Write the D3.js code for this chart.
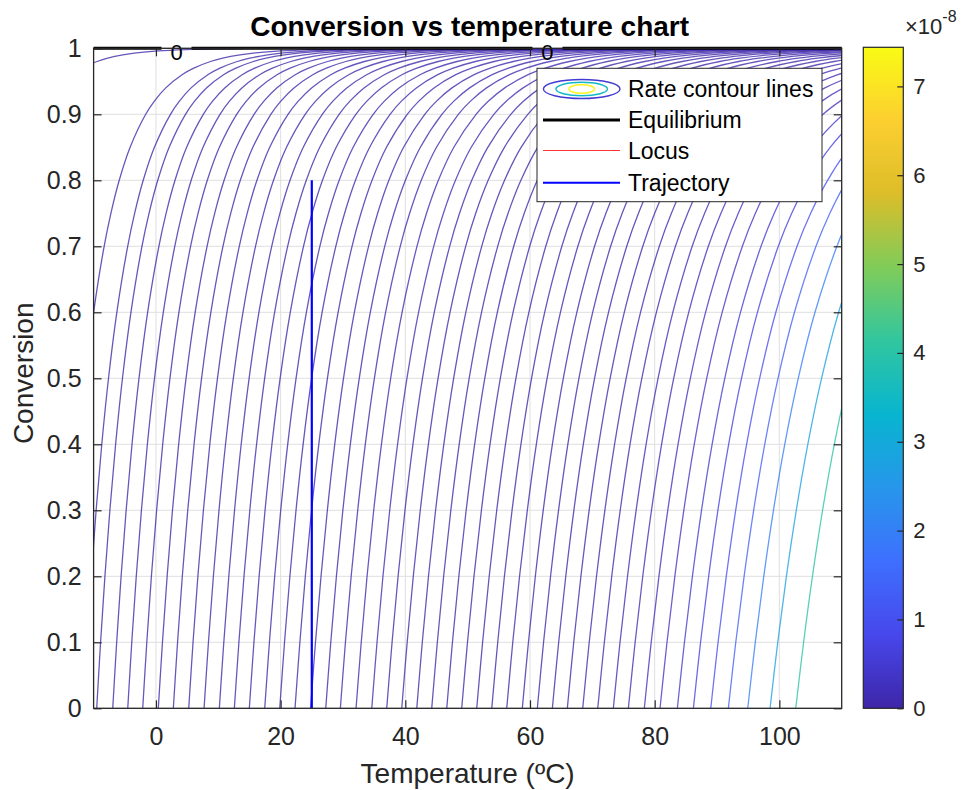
<!DOCTYPE html>
<html>
<head>
<meta charset="utf-8">
<script src="https://cdn.jsdelivr.net/npm/d3@7"></script>
<style>
body { margin: 0; background: #fff; }
text { font-family: "Liberation Sans", Arial, Helvetica, sans-serif; }
</style>
</head>
<body>
<div class="chart"></div>
<script>
// Conversion vs temperature chart

// axis ticks
var tempTicks = [0, 20, 40, 60, 80, 100];
var convTicks = [0, 0.1, 0.2, 0.3, 0.4, 0.5, 0.6, 0.7, 0.8, 0.9, 1];
var barTicks = [0, 1, 2, 3, 4, 5, 6, 7];
var rateMax = 7.44; // x 1e-8, top of the colour bar

// rate contours: temperature (ºC) where each line meets conversion 0,
// and its rate level (x 1e-8) read from the line colour
var contourT0 = [-30.57, -15.25, -11.67, -9.50, -6.93, -4.52, -2.12, 0.38, 2.79, 5.26,
    7.72, 10.17, 12.58, 14.98, 17.45, 19.86, 22.31, 24.80, 27.24, 29.58,
    32.10, 34.62, 37.02, 39.43, 41.84, 44.24, 46.65, 49.05, 51.46, 53.87,
    56.27, 58.77, 61.18, 63.59, 65.99, 68.46, 70.87, 73.37, 75.78, 78.34,
    80.86, 83.64, 86.21, 89.00, 91.82, 94.93, 98.51, 102.63];
var contourLevel = [0.0001, 0.00014, 0.0002, 0.00028, 0.0004, 0.00055, 0.00075, 0.001, 0.0014, 0.0019,
    0.0026, 0.0035, 0.005, 0.007, 0.0095, 0.013, 0.018, 0.025, 0.035, 0.048,
    0.065, 0.09, 0.0004, 0.0006, 0.0009, 0.0013, 0.0019, 0.0027, 0.004, 0.0055,
    0.008, 0.012, 0.017, 0.024, 0.035, 0.05, 0.073, 0.105, 0.15, 0.22,
    0.32, 0.46, 0.66, 0.95, 1.35, 1.95, 2.8, 4.0];

// common shape of the contours: shift of 1/T (1e-4 per K) against conversion
var shapeConv = [0, 0.1, 0.2, 0.3, 0.4, 0.5, 0.6, 0.7, 0.75, 0.8, 0.85, 0.9, 0.92, 0.94,
    0.96, 0.97, 0.98, 0.985, 0.99, 0.993, 0.996, 0.998, 0.999, 0.9995];
var shapeShift = [0, 0.0889, 0.1883, 0.3011, 0.4311, 0.5850, 0.7734, 1.0162, 1.1700, 1.3583,
    1.6012, 1.9434, 2.1317, 2.3745, 2.7167, 2.9596, 3.3017, 3.5446, 3.8868, 4.1878,
    4.6601, 5.2451, 5.8302, 6.4152];

// other series
var eqTemp = [-10, 110];
var eqConv = [1, 1];
var eqLabelTemp = [3.3, 62.8];
var trajTemp = [25, 25];
var trajConv = [0, 0.8];

var legendNames = ["Rate contour lines", "Equilibrium", "Locus", "Trajectory"];

// parula colour map stops
var parulaStops = [0, 0.111, 0.222, 0.333, 0.444, 0.556, 0.667, 0.778, 0.889, 1];
var parulaColors = ["#3e26a8", "#4747eb", "#3e6ffe", "#2796eb", "#08b5d0",
    "#31c69f", "#80cc59", "#dcbd29", "#fccf30", "#f9fb15"];

var svgWidth = 968;
var svgHeight = 790;
var plot = { left: 93.6, right: 841.7, top: 48.3, bottom: 708.3 };
var bar = { left: 863.3, right: 903.3, top: 47.3, bottom: 708.3 };
var axisColor = "#262626";

var svg = d3.select(".chart")
    .append("svg")
    .attr("width", svgWidth)
    .attr("height", svgHeight);

var xScale = d3.scaleLinear().domain([-10, 110]).range([plot.left, plot.right]);
var yScale = d3.scaleLinear().domain([0, 1]).range([plot.bottom, plot.top]);
var colorScale = d3.scaleLinear()
    .domain(parulaStops.map(function(s) { return s * rateMax; }))
    .range(parulaColors)
    .interpolate(d3.interpolateRgb);

var defs = svg.append("defs");
defs.append("clipPath").attr("id", "plotClip")
    .append("rect")
    .attr("x", plot.left).attr("y", plot.top)
    .attr("width", plot.right - plot.left).attr("height", plot.bottom - plot.top);

// grid
var grid = svg.append("g").attr("class", "grid");
grid.selectAll(".gx").data(tempTicks).enter().append("line")
    .attr("x1", function(d) { return xScale(d); }).attr("x2", function(d) { return xScale(d); })
    .attr("y1", plot.top).attr("y2", plot.bottom)
    .attr("stroke", "#dfdfdf").attr("stroke-width", 1);
grid.selectAll(".gy").data(convTicks).enter().append("line")
    .attr("y1", function(d) { return yScale(d); }).attr("y2", function(d) { return yScale(d); })
    .attr("x1", plot.left).attr("x2", plot.right)
    .attr("stroke", "#dfdfdf").attr("stroke-width", 1);

// contour lines
var chart = svg.append("g").attr("clip-path", "url(#plotClip)");
var line = d3.line()
    .x(function(d) { return xScale(d[0]); })
    .y(function(d) { return yScale(d[1]); })
    .curve(d3.curveCatmullRom);

chart.selectAll(".contour")
    .data(contourT0)
    .enter()
    .append("path")
    .attr("class", "contour")
    .attr("fill", "none")
    .attr("stroke", function(d, i) { return colorScale(contourLevel[i]); })
    .attr("stroke-width", 1.3)
    .attr("stroke-opacity", 0.78)
    .attr("d", function(t0) {
        var pts = shapeConv.map(function(c, j) {
            var invT = 1 / (t0 + 273.15) - shapeShift[j] * 1e-4;
            return [1 / invT - 273.15, c];
        });
        return line(pts);
    });

// trajectory
chart.append("path")
    .attr("fill", "none")
    .attr("stroke", "#0000ff")
    .attr("stroke-width", 2.2)
    .attr("d", d3.line()
        .x(function(d, i) { return xScale(trajTemp[i]); })
        .y(function(d, i) { return yScale(trajConv[i]); })(trajTemp));

// equilibrium line, broken where the 0 labels sit
var gapHalf = 15;
var cuts = [xScale(eqTemp[0])];
eqLabelTemp.forEach(function(t) {
    cuts.push(xScale(t) - gapHalf);
    cuts.push(xScale(t) + gapHalf);
});
cuts.push(xScale(eqTemp[1]));
for (var k = 0; k < cuts.length; k += 2) {
    svg.append("line")
        .attr("x1", cuts[k]).attr("x2", cuts[k + 1])
        .attr("y1", yScale(eqConv[0])).attr("y2", yScale(eqConv[1]))
        .attr("stroke", "#000").attr("stroke-width", 3);
}
svg.selectAll(".eqlabel").data(eqLabelTemp).enter().append("text")
    .attr("x", function(d) { return xScale(d); })
    .attr("y", yScale(1) + 4)
    .attr("dy", "0.35em")
    .attr("text-anchor", "middle")
    .attr("font-size", 22)
    .attr("fill", "#000")
    .text("0");

// axes
function styleAxis(g) {
    g.select(".domain").remove();
    g.selectAll(".tick line").attr("stroke", axisColor).attr("stroke-width", 1.2);
    g.selectAll(".tick text").attr("fill", axisColor).attr("font-size", 25)
        .attr("font-family", "'Liberation Sans', Arial, sans-serif");
}
svg.append("g")
    .attr("transform", "translate(0," + plot.bottom + ")")
    .call(d3.axisBottom(xScale).tickValues(tempTicks).tickSize(-8).tickPadding(19).tickFormat(d3.format("d")))
    .call(styleAxis);
svg.append("g")
    .attr("transform", "translate(0," + plot.top + ")")
    .call(d3.axisTop(xScale).tickValues(tempTicks).tickSize(-8).tickFormat(""))
    .call(styleAxis);
svg.append("g")
    .attr("transform", "translate(" + plot.left + ",0)")
    .call(d3.axisLeft(yScale).tickValues(convTicks).tickSize(-8).tickPadding(12).tickFormat(function(d) { return String(+d.toFixed(1)); }))
    .call(styleAxis);
svg.append("g")
    .attr("transform", "translate(" + plot.right + ",0)")
    .call(d3.axisRight(yScale).tickValues(convTicks).tickSize(-8).tickFormat(""))
    .call(styleAxis);

svg.append("rect")
    .attr("x", plot.left).attr("y", plot.top)
    .attr("width", plot.right - plot.left).attr("height", plot.bottom - plot.top)
    .attr("fill", "none").attr("stroke", axisColor).attr("stroke-width", 1.3);

// axis labels and title
svg.append("text")
    .attr("x", (plot.left + plot.right) / 2).attr("y", 783)
    .attr("text-anchor", "middle").attr("font-size", 28).attr("fill", axisColor)
    .text("Temperature (ºC)");
svg.append("text")
    .attr("transform", "translate(33," + ((plot.top + plot.bottom) / 2 - 5) + ") rotate(-90)")
    .attr("text-anchor", "middle").attr("font-size", 28).attr("fill", axisColor)
    .text("Conversion");
svg.append("text")
    .attr("x", (plot.left + plot.right) / 2 + 2).attr("y", 36)
    .attr("text-anchor", "middle").attr("font-size", 28).attr("font-weight", "bold").attr("fill", "#000")
    .text("Conversion vs temperature chart");

// legend
var legend = svg.append("g");
legend.append("rect")
    .attr("x", 537).attr("y", 68.3).attr("width", 285).attr("height", 133.4)
    .attr("fill", "#fff").attr("stroke", axisColor).attr("stroke-width", 1);
var rowY = [89, 120, 150.5, 182.7];
legend.append("ellipse").attr("cx", 581.7).attr("cy", rowY[0]).attr("rx", 38.3).attr("ry", 9.5)
    .attr("fill", "none").attr("stroke", colorScale(0.5)).attr("stroke-width", 1.4);
legend.append("ellipse").attr("cx", 581.7).attr("cy", rowY[0]).attr("rx", 25.8).attr("ry", 6.7)
    .attr("fill", "none").attr("stroke", colorScale(3.5)).attr("stroke-width", 1.4);
legend.append("ellipse").attr("cx", 581.7).attr("cy", rowY[0]).attr("rx", 12.8).attr("ry", 4.2)
    .attr("fill", "none").attr("stroke", colorScale(7.3)).attr("stroke-width", 1.4);
var legendStroke = [null, "#000", "#ff3333", "#0000ff"];
var legendWidth = [0, 3, 1.2, 2];
for (var r = 1; r < 4; r++) {
    legend.append("line")
        .attr("x1", 543).attr("x2", 620).attr("y1", rowY[r]).attr("y2", rowY[r])
        .attr("stroke", legendStroke[r]).attr("stroke-width", legendWidth[r]);
}
legend.selectAll(".ltext").data(legendNames).enter().append("text")
    .attr("x", 628).attr("y", function(d, i) { return rowY[i]; })
    .attr("dy", "0.35em").attr("font-size", 23).attr("fill", "#000")
    .text(function(d) { return d; });

// colour bar
var grad = defs.append("linearGradient").attr("id", "parulaGrad")
    .attr("x1", 0).attr("y1", 1).attr("x2", 0).attr("y2", 0);
parulaStops.forEach(function(s, i) {
    grad.append("stop").attr("offset", s).attr("stop-color", parulaColors[i]);
});
svg.append("rect")
    .attr("x", bar.left).attr("y", bar.top)
    .attr("width", bar.right - bar.left).attr("height", bar.bottom - bar.top)
    .attr("fill", "url(#parulaGrad)").attr("stroke", axisColor).attr("stroke-width", 1.2);
var barScale = d3.scaleLinear().domain([0, rateMax]).range([bar.bottom, bar.top]);
var barAxis = svg.append("g")
    .attr("transform", "translate(" + bar.right + ",0)")
    .call(d3.axisRight(barScale).tickValues(barTicks).tickSize(-6).tickPadding(10).tickFormat(d3.format("d")));
barAxis.select(".domain").remove();
barAxis.selectAll(".tick line").attr("stroke", axisColor).attr("stroke-width", 1.2);
barAxis.selectAll(".tick text").attr("fill", axisColor).attr("font-size", 22);

var expo = svg.append("text").attr("x", 905).attr("y", 34).attr("fill", axisColor).attr("font-size", 22);
expo.append("tspan").text("×10");
expo.append("tspan").attr("dy", -12).attr("font-size", 16).text("-8");
</script>
</body>
</html>
